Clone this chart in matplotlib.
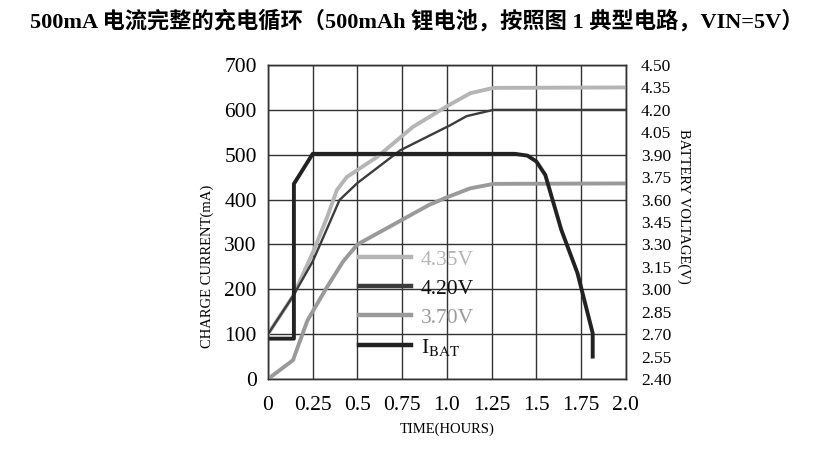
import matplotlib
matplotlib.use("Agg")
import matplotlib.pyplot as plt
from matplotlib.lines import Line2D

plt.rcParams['font.family'] = ['Liberation Serif', 'Noto Sans CJK SC']
plt.rcParams['mathtext.fontset'] = 'stix'

title = "500mA 电流完整的充电循环（500mAh 锂电池，按照图 1 典型电路，VIN=5V）"

# charge current (mA), left axis
t_ibat = [0.0, 0.145, 0.145, 0.25, 1.38, 1.45, 1.5, 1.55, 1.64, 1.73, 1.815, 1.815]
ibat = [90, 90, 435, 502, 502, 498, 485, 455, 332, 236, 102, 50]

# battery voltage (V), right axis
t_435 = [0.0, 0.14, 0.25, 0.33, 0.385, 0.44, 0.61, 0.81, 1.0, 1.13, 1.26, 2.0]
v_435 = [2.70, 2.955, 3.243, 3.48, 3.663, 3.75, 3.885, 4.086, 4.224, 4.311, 4.347, 4.35]

t_420 = [0.0, 0.14, 0.25, 0.33, 0.40, 0.5, 0.74, 1.02, 1.11, 1.26, 2.0]
v_420 = [2.70, 2.955, 3.186, 3.405, 3.597, 3.711, 3.93, 4.098, 4.158, 4.20, 4.20]

t_370 = [0.0, 0.14, 0.22, 0.33, 0.42, 0.5, 0.6, 0.75, 0.9, 1.0, 1.13, 1.26, 2.0]
v_370 = [2.40, 2.526, 2.79, 3.015, 3.186, 3.30, 3.366, 3.465, 3.564, 3.615, 3.675, 3.705, 3.708]

xticks = [0, 0.25, 0.5, 0.75, 1.0, 1.25, 1.5, 1.75, 2.0]
xtick_labels = ['0', '0.25', '0.5', '0.75', '1.0', '1.25', '1.5', '1.75', '2.0']
yticks = [0, 100, 200, 300, 400, 500, 600, 700]
vticks = [2.40 + 0.15 * i for i in range(15)]
legend_labels = ['4.35V', '4.20V', '3.70V', r'I$_{\mathrm{BAT}}$']

c435 = '#b5b5b5'
c420 = '#3c3c3c'
c370 = '#9a9a9a'
cbat = '#222222'

fig = plt.figure(figsize=(8.4, 4.63), dpi=100)
ax = fig.add_axes([0.319, 0.1814, 0.426, 0.6782])
ax2 = ax.twinx()

ax.set_xlim(0, 2.0)
ax.set_ylim(0, 700)
ax2.set_ylim(2.40, 4.50)

ax.set_xticks(xticks)
ax.set_xticklabels(xtick_labels)
ax.set_yticks(yticks)
ax2.set_yticks(vticks)
ax2.set_yticklabels(['%.2f' % v for v in vticks])

ax.grid(True, color='#333333', linewidth=1.0)
ax.set_axisbelow(True)
ax.tick_params(axis='both', length=0, labelsize=15.5)
ax.tick_params(axis='x', pad=12)
ax.tick_params(axis='y', pad=8)
ax2.tick_params(axis='y', length=0, labelsize=12.5, pad=11)
for a in (ax, ax2):
    for s in a.spines.values():
        s.set_color('#333333')
        s.set_linewidth(1.0)

ax2.plot(t_435, v_435, color=c435, linewidth=2.8)
ax2.plot(t_420, v_420, color=c420, linewidth=1.7)
ax2.plot(t_370, v_370, color=c370, linewidth=2.8)
ax2.plot(t_ibat, [2.4 + i * 0.003 for i in ibat], color=cbat, linewidth=2.8,
         solid_joinstyle='round')

handles = [Line2D([], [], color=c, linewidth=3.2) for c in (c435, c420, c370, cbat)]
leg = ax2.legend(handles, legend_labels,
                 loc='upper left', bbox_to_anchor=(0.201, 0.474), frameon=False,
                 fontsize=15.5, handlelength=2.4, handletextpad=0.45, labelspacing=0.42,
                 labelcolor=[c435, '#111111', c370, '#111111'])

ax.set_xlabel('TIME(HOURS)', fontsize=10.5, labelpad=6)
ax.set_ylabel('CHARGE CURRENT(mA)', fontsize=10.5, labelpad=5)
ax.yaxis.set_label_coords(-0.15, 0.36)
ax2.set_ylabel('BATTERY VOLTAGE(V)', fontsize=10.5, rotation=-90, labelpad=14)
ax2.yaxis.set_label_coords(1.182, 0.55)

fig.text(0.036, 0.955, title, fontsize=16, fontweight='bold', ha='left', va='center')

fig.savefig('out.png', dpi=100)
